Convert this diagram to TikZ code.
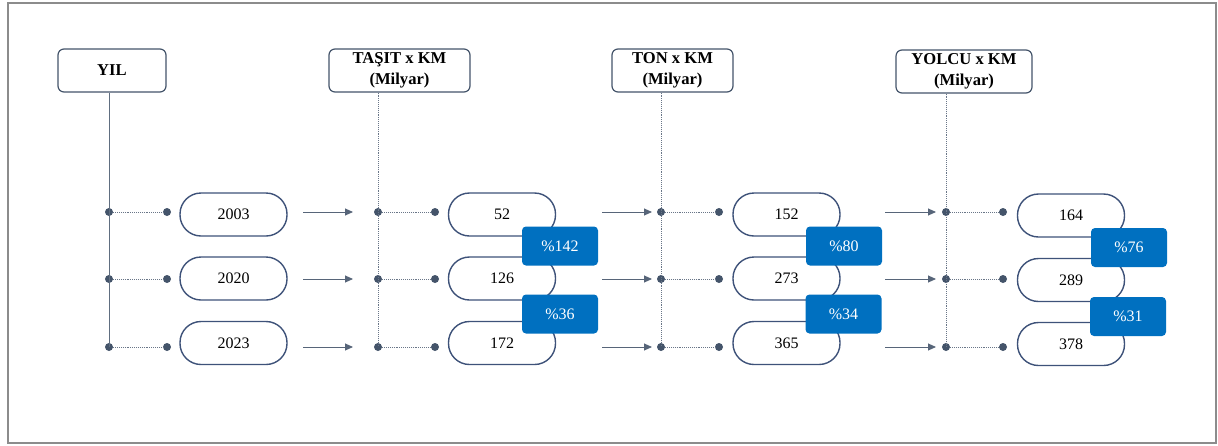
\documentclass[tikz,border=0pt]{standalone}
\usepackage{fontspec}
\setmainfont{Liberation Serif}
\usetikzlibrary{arrows.meta}
\definecolor{slate}{HTML}{44546A}
\definecolor{pillc}{HTML}{3E5279}
\definecolor{accent}{HTML}{0070C0}
\definecolor{framec}{HTML}{8C8C8C}
\begin{document}
\begin{tikzpicture}[x=1pt,y=-1pt,
  font=\fontsize{16}{20}\selectfont,
  head/.style={draw=slate, line width=1.2pt, rounded corners=6pt, fill=white,
    minimum height=43pt, inner sep=0pt, align=center,
    font=\fontsize{16.6}{20.5}\selectfont\bfseries},
  pill/.style={draw=pillc, line width=1.4pt, rounded corners=21pt, fill=white,
    minimum width=107pt, minimum height=43pt, inner sep=0pt},
  badge/.style={fill=accent, rounded corners=4pt, minimum width=76pt,
    minimum height=39pt, inner sep=0pt, text=white},
  dot/.style={circle, fill=slate, inner sep=0pt, minimum size=8pt},
  link/.style={draw=slate!80, line width=0.9pt, densely dotted},
  spine/.style={draw=slate!85, line width=0.8pt},
  flow/.style={draw=slate!90, line width=0.9pt, -{Triangle[length=8pt,width=7pt]}},
]
\useasboundingbox (0,0) rectangle (1218,445);
\draw[framec, line width=1.5pt] (8,3) rectangle (1216,443);

% column headers
\node[head, minimum width=108pt] (hY) at (112,70.5) {YIL};
\node[head, minimum width=141pt] (hT) at (399.5,70.5) {TAŞIT x KM\\(Milyar)};
\node[head, minimum width=121pt] (hO) at (672.5,70.5) {TON x KM\\(Milyar)};
\node[head, minimum width=136pt] (hP) at (964,71.5) {YOLCU x KM\\(Milyar)};

% junction dots per column and row
\foreach \c/\xa/\xb in {Y/109/167, T/378/435, O/661/719, P/946/1003}{
  \foreach \r/\y in {1/212, 2/279, 3/347}{
    \node[dot] (a\c\r) at (\xa,\y) {};
    \node[dot] (b\c\r) at (\xb,\y) {};
    \draw[link] (a\c\r) -- (b\c\r);
  }
}
% vertical spines
\draw[spine] (hY.south -| aY3) -- (aY3.center);
\draw[link] (hT.south -| aT3) -- (aT3.center);
\draw[link] (hO.south -| aO3) -- (aO3.center);
\draw[link] (hP.south -| aP3) -- (aP3.center);

% value pills
\node[pill] (pY1) at (233.5,214.5) {2003};
\node[pill] (pY2) at (233.5,278.5) {2020};
\node[pill] (pY3) at (233.5,343) {2023};
\node[pill] (pT1) at (502,214.5) {52};
\node[pill] (pT2) at (502,278.5) {126};
\node[pill] (pT3) at (502,343) {172};
\node[pill] (pO1) at (786.5,214.5) {152};
\node[pill] (pO2) at (786.5,278.5) {273};
\node[pill] (pO3) at (786.5,343) {365};
\node[pill] (pP1) at (1071,215.5) {164};
\node[pill] (pP2) at (1071,280) {289};
\node[pill] (pP3) at (1071,344) {378};

% change badges
\node[badge] (gT1) at (560,246) {\%142};
\node[badge] (gT2) at (560,314) {\%36};
\node[badge] (gO1) at (844,246) {\%80};
\node[badge] (gO2) at (843.5,314) {\%34};
\node[badge] (gP1) at (1129,247.5) {\%76};
\node[badge] (gP2) at (1128,316.5) {\%31};

% flow arrows between columns
\foreach \r/\y in {1/212, 2/279, 3/347}{
  \coordinate (s1\r) at (303,\y); \coordinate (e1\r) at (353,\y);
  \coordinate (s2\r) at (602,\y); \coordinate (e2\r) at (652,\y);
  \coordinate (s3\r) at (885,\y); \coordinate (e3\r) at (936,\y);
  \draw[flow] (s1\r) -- (e1\r);
  \draw[flow] (s2\r) -- (e2\r);
  \draw[flow] (s3\r) -- (e3\r);
}
\end{tikzpicture}
\end{document}
